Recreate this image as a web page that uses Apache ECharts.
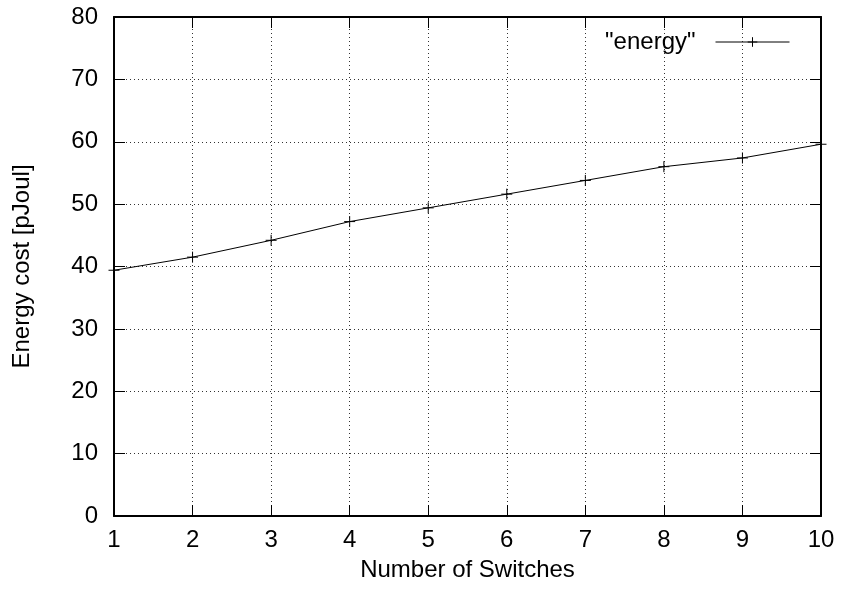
<!DOCTYPE html>
<html>
<head>
<meta charset="utf-8">
<title>energy</title>
<style type="text/css">
html,body{
	margin: 0;
	padding: 0;
	background-color: #fff;
}
#main {
	width: 842px;
	height: 594px;
}
</style>
</head>
<body>
<div id="main"></div>
<script src="https://cdn.jsdelivr.net/npm/echarts@6/dist/echarts.min.js"></script>
<script type="text/javascript">
// data
var switches = [1, 2, 3, 4, 5, 6, 7, 8, 9, 10];
var energy = [39.4, 41.5, 44.2, 47.2, 49.4, 51.6, 53.8, 56.0, 57.4, 59.6];
var seriesName = '"energy"';

var font = 'Liberation Sans, Arial, Helvetica, sans-serif';
var fs = 24;
var cross = 'path://M0,5L10,5M5,0L5,10';

var points = [];
for (var i = 0; i < switches.length; i++) {
	points.push([switches[i], energy[i]]);
}

// gnuplot style: ticks inside, mirrored on top and right
function xAx(pos, show) {
	return {
		type: 'value',
		position: pos,
		min: 1,
		max: 10,
		interval: 1,
		name: show ? 'Number of Switches' : '',
		nameLocation: 'middle',
		nameGap: 42,
		nameTextStyle: {color: '#000', fontSize: fs, fontFamily: font},
		axisLine: {show: true, onZero: false, lineStyle: {color: '#000', width: 2}},
		axisTick: {show: true, inside: true, length: 11, lineStyle: {color: '#000', width: 1}},
		axisLabel: {show: show, color: '#000', fontSize: fs, fontFamily: font, margin: 12},
		splitLine: {show: show, lineStyle: {color: '#000', type: [1, 3], width: 1, opacity: 0.8}}
	};
}
function yAx(pos, show) {
	return {
		type: 'value',
		position: pos,
		min: 0,
		max: 80,
		interval: 10,
		name: show ? 'Energy cost [pJoul]' : '',
		nameLocation: 'middle',
		nameGap: 80,
		nameTextStyle: {color: '#000', fontSize: fs, fontFamily: font},
		axisLine: {show: true, onZero: false, lineStyle: {color: '#000', width: 2}},
		axisTick: {show: true, inside: true, length: 11, lineStyle: {color: '#000', width: 1}},
		axisLabel: {show: show, color: '#000', fontSize: fs, fontFamily: font, margin: 16},
		splitLine: {show: show, lineStyle: {color: '#000', type: [1, 3], width: 1, opacity: 0.8}}
	};
}

var option = {
	animation: false,
	backgroundColor: '#fff',
	grid: {left: 114, right: 21, top: 17, bottom: 78},
	xAxis: [xAx('bottom', true), xAx('top', false)],
	yAxis: [yAx('left', true), yAx('right', false)],
	legend: {
		right: 47,
		top: 25,
		align: 'right',
		itemWidth: 74,
		itemHeight: 12,
		lineStyle: {color: '#000', width: 1},
		itemStyle: {color: 'rgba(0,0,0,0)', borderColor: '#000', borderWidth: 1},
		textStyle: {color: '#000', fontSize: fs, fontFamily: font, padding: [0, 15, 0, 0]},
		data: [seriesName]
	},
	series: [
		{
			name: seriesName,
			type: 'line',
			data: points,
			symbol: cross,
			symbolSize: 11,
			showAllSymbol: true,
			lineStyle: {color: '#000', width: 1},
			itemStyle: {color: 'rgba(0,0,0,0)', borderColor: '#000', borderWidth: 1}
		}
	]
};

var myChart = echarts.init(document.getElementById('main'));
myChart.setOption(option);
</script>
</body>
</html>
